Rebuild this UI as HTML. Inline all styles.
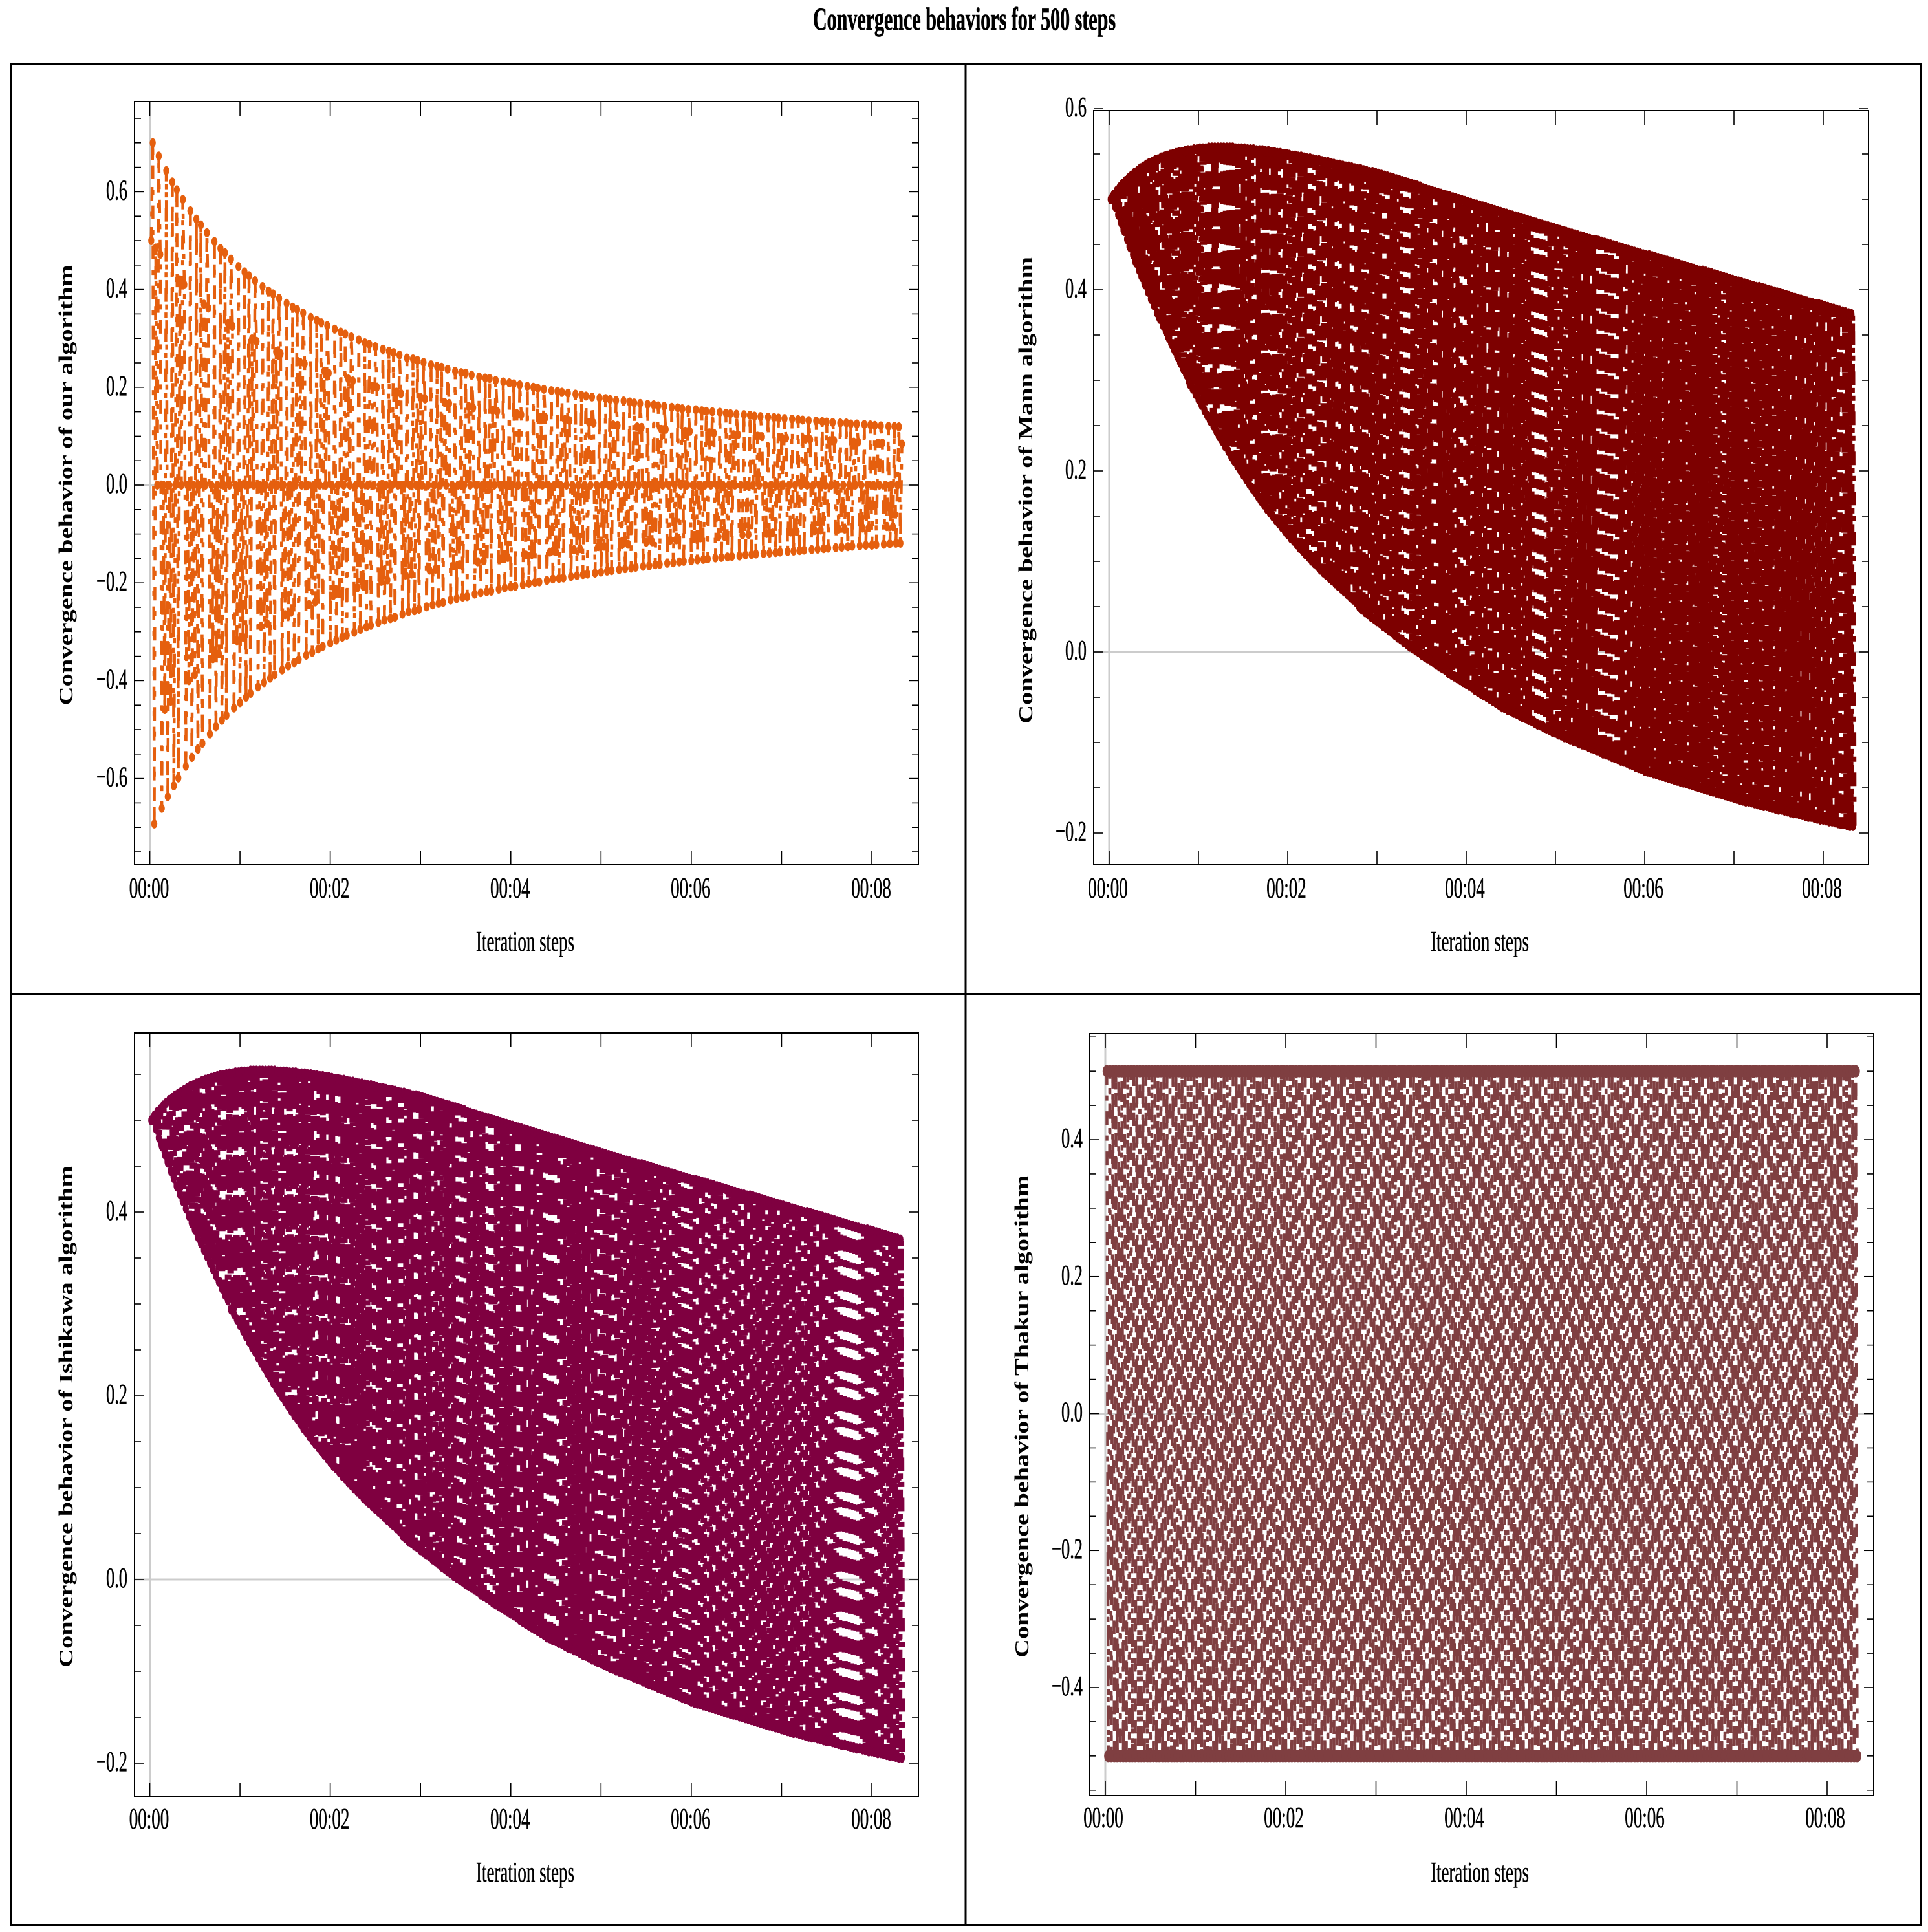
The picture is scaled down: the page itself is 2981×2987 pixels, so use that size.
<!DOCTYPE html>
<html lang="en">
<head>
<meta charset="utf-8">
<title>Convergence behaviors for 500 steps</title>
<style>
html,body{margin:0;padding:0;background:#fff}
svg{display:block}
text{font-family:"Liberation Serif",serif;fill:#000}
</style>
</head>
<body>
<svg id="figure" xmlns="http://www.w3.org/2000/svg" width="2981" height="2987" viewBox="0 0 2981 2987">
<rect x="0" y="0" width="2981" height="2987" fill="#fff"/>
<text x="1491" y="46" text-anchor="middle" font-size="50" font-weight="bold" textLength="468" lengthAdjust="spacingAndGlyphs" stroke="#000" stroke-width="0.8">Convergence behaviors for 500 steps</text>
<g stroke="#000" fill="none">
<line x1="16" y1="99" x2="2971" y2="99" stroke-width="4"/>
<line x1="16" y1="2976" x2="2971" y2="2976" stroke-width="4"/>
<line x1="17" y1="99" x2="17" y2="2976" stroke-width="3"/>
<line x1="2970" y1="99" x2="2970" y2="2976" stroke-width="3"/>
<line x1="16" y1="1537" x2="2971" y2="1537" stroke-width="4"/>
<line x1="1493" y1="99" x2="1493" y2="2976" stroke-width="3"/>
</g>
<g id="panel-our">
<text transform="translate(112,750) rotate(-90)" text-anchor="middle" font-size="31" font-weight="bold" textLength="681" lengthAdjust="spacingAndGlyphs">Convergence behavior of our algorithm</text>
<text x="812" y="1470" text-anchor="middle" font-size="44" textLength="152" lengthAdjust="spacingAndGlyphs" stroke="#000" stroke-width="0.5">Iteration steps</text>
</g>
<g id="panel-mann">
<text transform="translate(1596,758) rotate(-90)" text-anchor="middle" font-size="31" font-weight="bold" textLength="722" lengthAdjust="spacingAndGlyphs">Convergence behavior of Mann algorithm</text>
<text x="2288" y="1470" text-anchor="middle" font-size="44" textLength="152" lengthAdjust="spacingAndGlyphs" stroke="#000" stroke-width="0.5">Iteration steps</text>
</g>
<g id="panel-ishikawa">
<text transform="translate(112,2190) rotate(-90)" text-anchor="middle" font-size="31" font-weight="bold" textLength="776" lengthAdjust="spacingAndGlyphs">Convergence behavior of Ishikawa algorithm</text>
<text x="812" y="2909" text-anchor="middle" font-size="44" textLength="152" lengthAdjust="spacingAndGlyphs" stroke="#000" stroke-width="0.5">Iteration steps</text>
</g>
<g id="panel-thakur">
<text transform="translate(1590,2190) rotate(-90)" text-anchor="middle" font-size="31" font-weight="bold" textLength="746" lengthAdjust="spacingAndGlyphs">Convergence behavior of Thakur algorithm</text>
<text x="2288" y="2909" text-anchor="middle" font-size="44" textLength="152" lengthAdjust="spacingAndGlyphs" stroke="#000" stroke-width="0.5">Iteration steps</text>
</g>
</svg>
<script>
const xTickLabels = ['00:00','00:02','00:04','00:06','00:08'];
const xTickMinutes = [0,2,4,6,8];
const ourYTicks = [-0.6,-0.4,-0.2,0,0.2,0.4,0.6];
const mannYTicks = [-0.2,0,0.2,0.4,0.6];
const ishikawaYTicks = [-0.2,0,0.2,0.4];
const thakurYTicks = [-0.4,-0.2,0,0.2,0.4];

const ourValues = [
.5,.7,-.693,.485,0,.673,.472,-.661,0,-.459,.643,-.637,0,-.442,.62,-.615,
0,.604,-.599,.42,0,.584,.41,-.575,0,-.4,.561,-.557,0,-.388,.544,-.54,
0,.532,-.528,.37,0,.516,.362,-.509,0,-.355,.498,-.494,0,-.345,.484,-.481,
0,.475,-.471,.331,0,.462,.325,-.456,0,-.318,.447,-.445,0,-.311,.436,-.434,
0,.428,-.426,.299,0,.418,.294,-.413,0,-.289,.406,-.404,0,-.283,.397,-.395,
0,.391,-.388,.273,0,.382,.269,-.378,0,-.265,.372,-.37,0,-.26,.364,-.363,
0,.359,-.357,.251,0,.352,.248,-.348,0,-.244,.343,-.342,0,-.239,.337,-.335,
0,.332,-.33,.233,0,.326,.229,-.323,0,-.226,.319,-.317,0,-.222,.313,-.311,
0,.309,-.307,.217,0,.303,.213,-.301,0,-.21,.297,-.295,0,-.207,.291,-.29,
0,.288,-.287,.202,0,.283,.2,-.281,0,-.197,.278,-.276,0,-.194,.274,-.273,
0,.271,-.27,.19,0,.266,.187,-.264,0,-.184,.26,-.259,0,-.182,.258,-.257,
0,.255,-.254,.179,0,.251,.176,-.249,0,-.174,.246,-.245,0,-.172,.243,-.242,
0,.241,-.24,.169,0,.237,.167,-.235,0,-.165,.233,-.232,0,-.163,.23,-.229,
0,.229,-.228,.161,0,.225,.158,-.223,0,-.157,.221,-.22,0,-.155,.219,-.218,
0,.218,-.217,.153,0,.214,.151,-.213,0,-.15,.211,-.21,0,-.148,.209,-.208,
0,.207,-.207,.146,0,.205,.144,-.204,0,-.143,.202,-.201,0,-.142,.2,-.199,
0,.198,-.198,.139,0,.196,.138,-.195,0,-.137,.193,-.192,0,-.136,.192,-.191,
0,.19,-.19,.134,0,.188,.132,-.187,0,-.132,.186,-.185,0,-.13,.184,-.183,
0,.182,-.182,.128,0,.18,.127,-.18,0,-.126,.178,-.178,0,-.125,.177,-.176,
0,.175,-.175,.123,0,.173,.122,-.173,0,-.122,.172,-.171,0,-.121,.17,-.17,
0,.168,-.168,.119,0,.167,.118,-.166,0,-.117,.165,-.165,0,-.116,.164,-.163,
0,.162,-.162,.114,0,.161,.114,-.16,0,-.113,.159,-.159,0,-.112,.158,-.157,
0,.156,-.156,.11,0,.155,.11,-.155,0,-.109,.154,-.153,0,-.108,.152,-.152,
0,.151,-.151,.107,0,.15,.106,-.149,0,-.106,.149,-.148,0,-.105,.147,-.147,
0,.146,-.146,.103,0,.145,.103,-.145,0,-.102,.144,-.143,0,-.101,.143,-.142,
0,.141,-.141,.1,0,.14,.099,-.14,0,-.099,.139,-.139,0,-.098,.138,-.138,
0,.137,-.137,.097,0,.136,.096,-.136,0,-.096,.135,-.135,0,-.095,.134,-.134,
0,.133,-.133,.094,0,.132,.093,-.132,0,-.093,.131,-.131,0,-.092,.13,-.13,
0,.129,-.129,.091,0,.128,.091,-.128,0,-.09,.127,-.127,0,-.09,.127,-.126,
0,.125,-.125,.088,0,.125,.088,-.124,0,-.088,.124,-.123,0,-.087,.123,-.123,
0,.122,-.122,.086,0,.121,.086,-.121,0,-.085,.12,-.12,0,-.085,.12,-.119,
0,.119,-.119,.084
];

const mannValues = [
.5,.5,.505,.492,.509,.483,.513,.474,.517,.465,.52,.456,.523,.447,.526,.439,.529,.43,.531,.422,
.534,.414,.536,.406,.538,.398,.54,.39,.541,.383,.543,.375,.544,.368,.546,.361,.547,.354,.548,.347,
.549,.34,.55,.333,.551,.326,.552,.319,.552,.312,.553,.306,.554,.296,.554,.291,.555,.285,.555,.279,
.556,.273,.556,.267,.556,.261,.557,.255,.557,.25,.557,.244,.557,.238,.557,.233,.557,.227,.557,.222,
.557,.216,.557,.211,.556,.206,.556,.201,.556,.196,.556,.191,.555,.186,.555,.181,.555,.177,.554,.172,
.554,.167,.554,.163,.553,.158,.553,.154,.552,.15,.552,.146,.551,.142,.551,.138,.55,.134,.55,.13,
.549,.126,.548,.123,.548,.119,.547,.115,.547,.112,.546,.108,.545,.105,.545,.101,.544,.098,.543,.095,
.543,.091,.542,.088,.541,.085,.541,.082,.54,.079,.539,.076,.538,.073,.538,.07,.537,.067,.536,.064,
.536,.061,.535,.058,.534,.055,.533,.05,.533,.047,.532,.044,.531,.042,.53,.039,.53,.037,.529,.034,
.528,.032,.527,.029,.526,.027,.525,.024,.524,.022,.523,.019,.522,.016,.521,.014,.52,.011,.519,.009,
.518,.006,.517,.004,.516,.002,.515,0,.514,-.003,.512,-.005,.511,-.007,.51,-.009,.509,-.011,.508,-.014,
.507,-.016,.506,-.018,.505,-.02,.504,-.023,.503,-.025,.502,-.027,.501,-.029,.5,-.031,.499,-.033,.498,-.035,
.497,-.037,.496,-.039,.495,-.042,.494,-.044,.493,-.046,.492,-.048,.491,-.05,.49,-.052,.489,-.054,.488,-.056,
.487,-.058,.486,-.061,.485,-.062,.484,-.064,.483,-.065,.482,-.067,.481,-.068,.48,-.07,.479,-.072,.478,-.073,
.477,-.075,.476,-.076,.475,-.078,.474,-.08,.473,-.081,.472,-.083,.471,-.085,.47,-.086,.469,-.088,.468,-.089,
.467,-.091,.466,-.092,.465,-.094,.464,-.095,.463,-.097,.462,-.098,.461,-.099,.46,-.101,.459,-.102,.458,-.103,
.457,-.105,.456,-.106,.455,-.107,.455,-.109,.454,-.11,.453,-.112,.452,-.113,.451,-.114,.45,-.116,.449,-.117,
.448,-.118,.447,-.12,.446,-.121,.445,-.122,.444,-.124,.443,-.125,.442,-.127,.441,-.128,.44,-.129,.439,-.131,
.438,-.132,.438,-.133,.437,-.134,.436,-.135,.435,-.136,.434,-.137,.433,-.138,.432,-.139,.431,-.14,.43,-.141,
.429,-.142,.428,-.143,.427,-.144,.426,-.145,.425,-.146,.424,-.147,.423,-.148,.422,-.149,.421,-.15,.421,-.151,
.42,-.152,.419,-.153,.418,-.154,.417,-.155,.416,-.156,.415,-.157,.414,-.158,.413,-.159,.412,-.16,.411,-.161,
.41,-.162,.409,-.163,.408,-.164,.407,-.165,.406,-.165,.405,-.166,.404,-.167,.403,-.168,.403,-.169,.402,-.17,
.401,-.17,.4,-.171,.399,-.172,.398,-.173,.397,-.174,.396,-.174,.395,-.175,.394,-.176,.393,-.177,.392,-.178,
.391,-.178,.39,-.179,.389,-.18,.388,-.181,.387,-.182,.386,-.182,.385,-.183,.384,-.184,.384,-.185,.383,-.185,
.382,-.186,.381,-.187,.38,-.187,.379,-.188,.378,-.189,.377,-.19,.376,-.19,.375,-.191,.374,-.192,.373,-.192
];

const ishikawaValues = [
.5,.5,.505,.491,.509,.481,.512,.472,.516,.463,.519,.454,.522,.445,.524,.437,.527,.428,.529,.42,
.531,.412,.533,.404,.535,.396,.537,.388,.538,.381,.54,.373,.541,.366,.543,.359,.544,.352,.545,.345,
.546,.338,.547,.331,.548,.324,.549,.317,.549,.31,.55,.304,.551,.294,.551,.289,.552,.283,.552,.277,
.553,.271,.553,.265,.553,.259,.554,.253,.554,.248,.554,.242,.554,.236,.554,.231,.554,.225,.554,.22,
.554,.214,.554,.209,.553,.204,.553,.199,.553,.194,.553,.189,.552,.184,.552,.179,.552,.175,.551,.17,
.551,.165,.551,.161,.55,.156,.55,.152,.549,.148,.549,.144,.548,.14,.548,.136,.547,.132,.547,.128,
.546,.124,.545,.121,.545,.117,.544,.113,.544,.11,.543,.106,.542,.103,.542,.099,.541,.096,.54,.093,
.54,.089,.539,.086,.538,.083,.538,.08,.537,.077,.536,.074,.535,.071,.535,.068,.534,.065,.533,.062,
.533,.059,.532,.056,.531,.053,.53,.048,.53,.045,.529,.042,.528,.04,.527,.037,.527,.035,.526,.032,
.525,.03,.524,.027,.523,.025,.522,.022,.521,.02,.52,.017,.519,.014,.518,.012,.517,.009,.516,.007,
.515,.004,.514,.002,.513,0,.512,-.002,.511,-.005,.509,-.007,.508,-.009,.507,-.011,.506,-.013,.505,-.016,
.504,-.018,.503,-.02,.502,-.022,.501,-.025,.5,-.027,.499,-.029,.498,-.031,.497,-.033,.496,-.035,.495,-.037,
.494,-.039,.493,-.041,.492,-.044,.491,-.046,.49,-.048,.489,-.05,.488,-.052,.487,-.054,.486,-.056,.485,-.058,
.484,-.06,.483,-.063,.482,-.064,.481,-.066,.48,-.067,.479,-.069,.478,-.07,.477,-.072,.476,-.074,.475,-.075,
.474,-.077,.473,-.078,.472,-.08,.471,-.082,.47,-.083,.469,-.085,.468,-.087,.467,-.088,.466,-.09,.465,-.091,
.464,-.093,.463,-.094,.462,-.096,.461,-.097,.46,-.099,.459,-.1,.458,-.101,.457,-.103,.456,-.104,.455,-.105,
.454,-.107,.453,-.108,.452,-.109,.452,-.111,.451,-.112,.45,-.114,.449,-.115,.448,-.116,.447,-.118,.446,-.119,
.445,-.12,.444,-.122,.443,-.123,.442,-.124,.441,-.126,.44,-.127,.439,-.129,.438,-.13,.437,-.131,.436,-.133,
.435,-.134,.435,-.135,.434,-.136,.433,-.137,.432,-.138,.431,-.139,.43,-.14,.429,-.141,.428,-.142,.427,-.143,
.426,-.144,.425,-.145,.424,-.146,.423,-.147,.422,-.148,.421,-.149,.42,-.15,.419,-.151,.418,-.152,.418,-.153,
.417,-.154,.416,-.155,.415,-.156,.414,-.157,.413,-.158,.412,-.159,.411,-.16,.41,-.161,.409,-.162,.408,-.163,
.407,-.164,.406,-.165,.405,-.166,.404,-.167,.403,-.167,.402,-.168,.401,-.169,.4,-.17,.4,-.171,.399,-.172,
.398,-.172,.397,-.173,.396,-.174,.395,-.175,.394,-.176,.393,-.176,.392,-.177,.391,-.178,.39,-.179,.389,-.18,
.388,-.18,.387,-.181,.386,-.182,.385,-.183,.384,-.184,.383,-.184,.382,-.185,.381,-.186,.381,-.187,.38,-.187,
.379,-.188,.378,-.189,.377,-.189,.376,-.19,.375,-.191,.374,-.192,.373,-.192,.372,-.193,.371,-.194,.37,-.194
];

const thakurValues = [
.5,-.5,.5,-.5,.5,-.5,.5,-.5,.5,-.5,.5,-.5,.5,-.5,.5,-.5,.5,-.5,.5,-.5,.5,-.5,.5,-.5,.5,-.5,
.5,-.5,.5,-.5,.5,-.5,.5,-.5,.5,-.5,.5,-.5,.5,-.5,.5,-.5,.5,-.5,.5,-.5,.5,-.5,.5,-.5,.5,-.5,
.5,-.5,.5,-.5,.5,-.5,.5,-.5,.5,-.5,.5,-.5,.5,-.5,.5,-.5,.5,-.5,.5,-.5,.5,-.5,.5,-.5,.5,-.5,
.5,-.5,.5,-.5,.5,-.5,.5,-.5,.5,-.5,.5,-.5,.5,-.5,.5,-.5,.5,-.5,.5,-.5,.5,-.5,.5,-.5,.5,-.5,
.5,-.5,.5,-.5,.5,-.5,.5,-.5,.5,-.5,.5,-.5,.5,-.5,.5,-.5,.5,-.5,.5,-.5,.5,-.5,.5,-.5,.5,-.5,
.5,-.5,.5,-.5,.5,-.5,.5,-.5,.5,-.5,.5,-.5,.5,-.5,.5,-.5,.5,-.5,.5,-.5,.5,-.5,.5,-.5,.5,-.5,
.5,-.5,.5,-.5,.5,-.5,.5,-.5,.5,-.5,.5,-.5,.5,-.5,.5,-.5,.5,-.5,.5,-.5,.5,-.5,.5,-.5,.5,-.5,
.5,-.5,.5,-.5,.5,-.5,.5,-.5,.5,-.5,.5,-.5,.5,-.5,.5,-.5,.5,-.5,.5,-.5,.5,-.5,.5,-.5,.5,-.5,
.5,-.5,.5,-.5,.5,-.5,.5,-.5,.5,-.5,.5,-.5,.5,-.5,.5,-.5,.5,-.5,.5,-.5,.5,-.5,.5,-.5,.5,-.5,
.5,-.5,.5,-.5,.5,-.5,.5,-.5,.5,-.5,.5,-.5,.5,-.5,.5,-.5,.5,-.5,.5,-.5,.5,-.5,.5,-.5,.5,-.5,
.5,-.5,.5,-.5,.5,-.5,.5,-.5,.5,-.5,.5,-.5,.5,-.5,.5,-.5,.5,-.5,.5,-.5,.5,-.5,.5,-.5,.5,-.5,
.5,-.5,.5,-.5,.5,-.5,.5,-.5,.5,-.5,.5,-.5,.5,-.5,.5,-.5,.5,-.5,.5,-.5,.5,-.5,.5,-.5,.5,-.5,
.5,-.5,.5,-.5,.5,-.5,.5,-.5,.5,-.5,.5,-.5,.5,-.5,.5,-.5,.5,-.5,.5,-.5,.5,-.5,.5,-.5,.5,-.5,
.5,-.5,.5,-.5,.5,-.5,.5,-.5,.5,-.5,.5,-.5,.5,-.5,.5,-.5,.5,-.5,.5,-.5,.5,-.5,.5,-.5,.5,-.5,
.5,-.5,.5,-.5,.5,-.5,.5,-.5,.5,-.5,.5,-.5,.5,-.5,.5,-.5,.5,-.5,.5,-.5,.5,-.5,.5,-.5,.5,-.5,
.5,-.5,.5,-.5,.5,-.5,.5,-.5,.5,-.5,.5,-.5,.5,-.5,.5,-.5,.5,-.5,.5,-.5,.5,-.5,.5,-.5,.5,-.5,
.5,-.5,.5,-.5,.5,-.5,.5,-.5,.5,-.5,.5,-.5,.5,-.5,.5,-.5,.5,-.5,.5,-.5,.5,-.5,.5,-.5,.5,-.5,
.5,-.5,.5,-.5,.5,-.5,.5,-.5,.5,-.5,.5,-.5,.5,-.5,.5,-.5,.5,-.5,.5,-.5,.5,-.5,.5,-.5,.5,-.5,
.5,-.5,.5,-.5,.5,-.5,.5,-.5,.5,-.5,.5,-.5,.5,-.5,.5,-.5,.5,-.5,.5,-.5,.5,-.5,.5,-.5,.5,-.5,
.5,-.5,.5,-.5,.5,-.5
];

const SVG_NS = 'http://www.w3.org/2000/svg';

function mk(tag, parent, attrs) {
  const el = document.createElementNS(SVG_NS, tag);
  for (const k in attrs) el.setAttribute(k, attrs[k]);
  parent.appendChild(el);
  return el;
}

function drawPanel(cfg) {
  const root = document.getElementById(cfg.id);
  const xScale = sec => cfg.x0 + (sec / 60) * (cfg.x8 - cfg.x0) / 8;
  const yScale = v => cfg.yZero - v * cfg.yPerUnit;

  const axes = mk('g', root, {});
  
  

  const zeroH = mk('line', axes, {x1: cfg.left, x2: cfg.right, y1: yScale(0), y2: yScale(0), stroke: '#ccc', 'stroke-width': 3});
  
  

  const zeroV = mk('line', axes, {x1: xScale(0), x2: xScale(0), y1: cfg.top, y2: cfg.bottom, stroke: '#ccc', 'stroke-width': 3});
  
  

  const series = mk('g', root, {});
  
  

  const pts = cfg.values.map((v, i) => xScale(i + 1).toFixed(2) + ',' + yScale(v).toFixed(2));
  const line = mk('polyline', series, {points: pts.join(' '), fill: 'none', stroke: cfg.color, 'stroke-width': cfg.lineWidth, 'stroke-dasharray': cfg.dash, 'stroke-linejoin': 'round'});
  
  

  cfg.values.forEach((v, i) => {
    const dot = mk('ellipse', series, {cx: xScale(i + 1).toFixed(2), cy: yScale(v).toFixed(2), rx: cfg.rx, ry: cfg.ry, fill: cfg.color});
    
    
  });

  const box = mk('rect', axes, {x: cfg.left, y: cfg.top, width: cfg.right - cfg.left, height: cfg.bottom - cfg.top, fill: 'none', stroke: '#000', 'stroke-width': 2});
  
  

  for (let m = 0; m <= 8; m++) {
    const x = xScale(m * 60);
    const tb = mk('line', axes, {x1: x, x2: x, y1: cfg.bottom, y2: cfg.bottom - 22, stroke: '#000', 'stroke-width': 1.6});
    
    
    const tt = mk('line', axes, {x1: x, x2: x, y1: cfg.top, y2: cfg.top + 22, stroke: '#000', 'stroke-width': 1.6});
    
    
  }

  xTickLabels.forEach((lab, i) => {
    const x = xScale(xTickMinutes[i] * 60) + cfg.labelDx;
    const t = mk('text', axes, {transform: 'translate(' + x + ',' + (cfg.bottom + cfg.labelDy) + ') scale(0.6,1)', 'text-anchor': 'middle', 'font-size': 45, stroke: '#000', 'stroke-width': 0.6});
    
    
    t.textContent = lab;
  });

  for (let k = cfg.minorFrom; k <= cfg.minorTo; k++) {
    const y = yScale(k * 0.05);
    const isMajor = k % 4 === 0;
    const len = isMajor ? 15 : 10;
    const l = mk('line', axes, {x1: cfg.left, x2: cfg.left + len, y1: y, y2: y, stroke: '#000', 'stroke-width': 1.6});
    
    
    const r = mk('line', axes, {x1: cfg.right, x2: cfg.right - len, y1: y, y2: y, stroke: '#000', 'stroke-width': 1.6});
    
    
  }

  cfg.yTicks.forEach(v => {
    const t = mk('text', axes, {transform: 'translate(' + (cfg.left - 11) + ',' + (yScale(v) + 12) + ') scale(0.6,1)', 'text-anchor': 'end', 'font-size': 44, stroke: '#000', 'stroke-width': 0.6});
    
    
    t.textContent = (v < 0 ? '\u2212' : '') + Math.abs(v).toFixed(1);
  });
}

const DOT_DASH = '21 16.5 8 16.5';

drawPanel({id: 'panel-our', key: 'our', values: ourValues, yTicks: ourYTicks, color: '#e55f0e', dash: DOT_DASH, lineWidth: 4.5, rx: 4.7, ry: 7,
  left: 208, right: 1420, top: 157, bottom: 1337, x0: 231.5, x8: 1348, yZero: 750, yPerUnit: 756, minorFrom: -15, minorTo: 15, labelDx: -1, labelDy: 51});
drawPanel({id: 'panel-mann', key: 'mann', values: mannValues, yTicks: mannYTicks, color: '#7d0000', dash: DOT_DASH, lineWidth: 11, rx: 4.7, ry: 8,
  left: 1691, right: 2889, top: 171, bottom: 1337, x0: 1715, x8: 2819, yZero: 1008, yPerUnit: 1400, minorFrom: -4, minorTo: 12, labelDx: -2, labelDy: 51});
drawPanel({id: 'panel-ishikawa', key: 'ishikawa', values: ishikawaValues, yTicks: ishikawaYTicks, color: '#7f0040', dash: DOT_DASH, lineWidth: 10, rx: 4.7, ry: 8,
  left: 208, right: 1420, top: 1597, bottom: 2778, x0: 231.5, x8: 1348, yZero: 2442, yPerUnit: 1420, minorFrom: -4, minorTo: 11, labelDx: -1, labelDy: 49});
drawPanel({id: 'panel-thakur', key: 'thakur', values: thakurValues, yTicks: thakurYTicks, color: '#7f3f41', dash: DOT_DASH, lineWidth: 4.5, rx: 6.5, ry: 9.5,
  left: 1685, right: 2897, top: 1598, bottom: 2776, x0: 1709, x8: 2825, yZero: 2185.5, yPerUnit: 1058.7, minorFrom: -11, minorTo: 11, labelDx: -3, labelDy: 49});
</script>
</body>
</html>
